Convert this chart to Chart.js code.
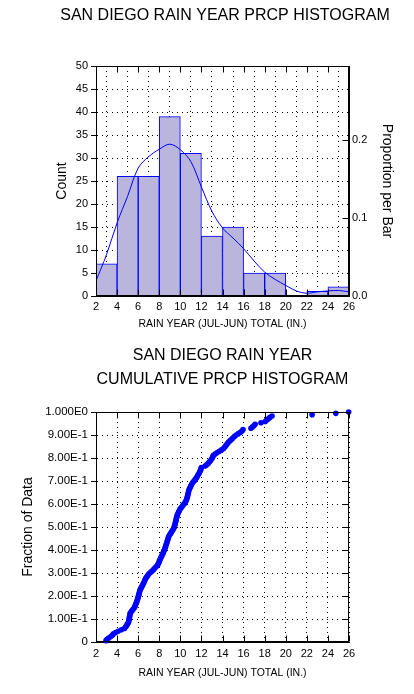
<!DOCTYPE html>
<html>
<head>
<meta charset="utf-8">
<script src="https://cdn.jsdelivr.net/npm/chart.js@4/dist/chart.umd.min.js"></script>
<style>
  body { margin: 0; background: #fff; }
  canvas { position: absolute; left: 0; }
</style>
</head>
<body>
<canvas id="histChart" width="414" height="335" style="top:0"></canvas>
<canvas id="cumChart" width="414" height="359" style="top:335px"></canvas>
<script>
// histogram bins (left edges, 2 in. wide) and counts
var binStarts = [2, 4, 6, 8, 10, 12, 14, 16, 18, 20, 22, 24];
var binCounts = [7, 26, 26, 39, 31, 13, 15, 5, 5, 0, 1, 2];

var curveX = [2, 3, 4, 5, 6, 7, 8, 9, 10, 11, 12, 13, 14, 15, 16, 17, 18, 19, 20, 21, 22, 23, 24, 25, 26];
var curveY = [3.3, 9, 15.9, 21.7, 27.8, 30.3, 31.9, 33, 31.8, 29.2, 23.7, 18.4, 14.8, 12.6, 10.3, 7.6, 5.2, 3.6, 2.3, 1.1, 0.6, 0.9, 1.1, 1.2, 0.9];

// rain year totals, sorted
var rainSorted = [
  2.95, 3.05, 3.2, 3.4, 3.55, 3.65, 3.85,
  4.1, 4.4, 4.7, 4.8, 4.9, 4.95, 5.05, 5.1, 5.12, 5.15, 5.17, 5.19, 5.21, 5.23, 5.3, 5.4, 5.5, 5.6, 5.68,
  5.72, 5.78, 5.83, 5.88, 5.92, 5.96, 5.99,
  6.03, 6.07, 6.1, 6.13, 6.16, 6.22, 6.28, 6.35, 6.42, 6.48, 6.55, 6.6, 6.65, 6.72, 6.8, 6.9, 6.98,
  7.1, 7.25, 7.4, 7.5, 7.62, 7.75, 7.85, 7.92, 7.98,
  8.02, 8.08, 8.14, 8.2, 8.26, 8.32, 8.38, 8.43, 8.48, 8.53, 8.58, 8.62, 8.66, 8.7, 8.74, 8.78, 8.82, 8.86, 8.9,
  8.98, 9.06, 9.14, 9.22, 9.3, 9.38, 9.42, 9.46, 9.5, 9.53, 9.56, 9.59, 9.62, 9.65, 9.68, 9.72, 9.78, 9.84, 9.9, 9.96,
  10.05, 10.15, 10.25, 10.35, 10.45, 10.52, 10.58, 10.62, 10.66, 10.69, 10.72, 10.75, 10.78, 10.8, 10.86, 10.92, 10.98,
  11.04, 11.1, 11.2, 11.3, 11.4, 11.5, 11.58, 11.65, 11.72, 11.8, 11.86, 11.92, 11.96, 11.99,
  12.35, 12.5, 12.65, 12.75, 12.85, 12.95, 13.02, 13.08, 13.15, 13.3, 13.5, 13.7, 13.9,
  14.1, 14.2, 14.3, 14.4, 14.5, 14.6, 14.75, 14.9, 15.0, 15.15, 15.3, 15.5, 15.7, 15.85, 15.95,
  16.7, 16.85, 17.0, 17.1, 17.65,
  18.05, 18.2, 18.35, 18.5, 18.7,
  22.5, 24.75, 25.97
];

var fracLabels = ['0', '1.00E-1', '2.00E-1', '3.00E-1', '4.00E-1', '5.00E-1', '6.00E-1', '7.00E-1', '8.00E-1', '9.00E-1', '1.000E0'];

var FONT = '"Liberation Sans", Arial, sans-serif';
Chart.defaults.font.family = FONT;
Chart.defaults.color = '#000';

var total = binCounts.reduce(function (a, b) { return a + b; }, 0);

// box around the plot + inward tick marks
var framePlugin = {
  id: 'frame',
  afterDraw: function (chart, args, opts) {
    var ctx = chart.ctx, a = chart.chartArea;
    var l = Math.round(a.left) + 0.5, r = Math.round(a.right) - 0.5;
    var t = Math.round(a.top) + 0.5, b = Math.round(a.bottom) - 0.5;
    ctx.save();
    ctx.strokeStyle = '#000';
    ctx.lineWidth = 1;
    ctx.strokeRect(l, t, r - l, b - t);
    ctx.beginPath();
    var xs = chart.scales.x;
    xs.ticks.forEach(function (tk) {
      var px = Math.round(xs.getPixelForValue(tk.value)) + 0.5;
      ctx.moveTo(px, t); ctx.lineTo(px, t + 6);
      ctx.moveTo(px, b); ctx.lineTo(px, b - 6);
    });
    var rs = chart.scales[opts.rightScale];
    rs.ticks.forEach(function (tk) {
      var py = Math.round(rs.getPixelForValue(tk.value)) + 0.5;
      ctx.moveTo(r, py); ctx.lineTo(r - 6, py);
    });
    ctx.stroke();
    ctx.restore();
  }
};

var histData = [];
for (let i = 0; i < binStarts.length; i++) {
  histData.push({ x: binStarts[i] + 1, y: binCounts[i] });
}
var curveData = [];
for (let i = 0; i < curveX.length; i++) {
  curveData.push({ x: curveX[i], y: curveY[i] });
}

var gridOpts = { color: '#000', drawTicks: true, tickLength: 5, tickColor: '#000', tickBorderDash: [] };
var borderOpts = { color: '#000', dash: [1, 4] };

new Chart(document.getElementById('histChart'), {
  type: 'bar',
  data: {
    datasets: [
      {
        type: 'line',
        data: curveData,
        borderColor: '#0000ff',
        borderWidth: 1,
        pointRadius: 0,
        tension: 0.35,
        fill: false
      },
      {
        type: 'bar',
        data: histData,
        backgroundColor: '#b9b5dd',
        borderColor: '#0000ff',
        borderWidth: 1,
        barPercentage: 1,
        categoryPercentage: 1
      }
    ]
  },
  plugins: [framePlugin],
  options: {
    responsive: false,
    animation: false,
    devicePixelRatio: 1,
    // left padding pushes the title centre right, y axis made narrower to match
    layout: { padding: { left: 36, right: 0, top: 0, bottom: 0 } },
    plugins: {
      legend: { display: false },
      tooltip: { enabled: false },
      frame: { rightScale: 'y2' },
      title: {
        display: true,
        text: 'SAN DIEGO RAIN YEAR PRCP HISTOGRAM',
        color: '#000',
        font: { size: 16, weight: 'normal' },
        padding: { top: 6, bottom: 40.8 }
      }
    },
    scales: {
      x: {
        type: 'linear', min: 2, max: 26, offset: false,
        ticks: { stepSize: 2, autoSkip: false, maxRotation: 0, padding: 4, font: { size: 11 } },
        grid: { color: '#000', drawTicks: false },
        border: borderOpts,
        title: { display: true, text: 'RAIN YEAR (JUL-JUN) TOTAL (IN.)', font: { size: 10.5 }, padding: { top: 0, bottom: 4.7 } },
        afterFit: function (s) { s.height = 39; }
      },
      y: {
        min: 0, max: 50,
        ticks: { stepSize: 5, padding: 3, font: { size: 11 } },
        grid: gridOpts,
        border: borderOpts,
        title: { display: true, text: 'Count', font: { size: 14 }, padding: { top: 17.6, bottom: 0 } },
        afterFit: function (s) { s.width = 60; }
      },
      y2: {
        position: 'right',
        min: 0, max: 50 / total,
        ticks: { stepSize: 0.1, includeBounds: false, padding: 3, font: { size: 11 },
          callback: function (v) { return v.toFixed(1); } },
        grid: { drawOnChartArea: false, drawTicks: false },
        border: { color: '#000' },
        title: { display: true, text: 'Proportion per Bar', font: { size: 14 }, padding: { top: 18.5, bottom: 0 } },
        afterFit: function (s) { s.width = 65; }
      }
    }
  }
});

// cumulative fraction: rank / n
var cumData = [];
for (let i = 0; i < rainSorted.length; i++) {
  cumData.push({ x: rainSorted[i], y: (i + 1) / rainSorted.length });
}

new Chart(document.getElementById('cumChart'), {
  type: 'scatter',
  data: {
    datasets: [{
      data: cumData,
      backgroundColor: '#0000ff',
      borderWidth: 0,
      pointRadius: 2.8,
      clip: false
    }]
  },
  plugins: [framePlugin],
  options: {
    responsive: false,
    animation: false,
    devicePixelRatio: 1,
    layout: { padding: { left: 0, right: 65, top: 0, bottom: 0 } },
    plugins: {
      legend: { display: false },
      tooltip: { enabled: false },
      frame: { rightScale: 'y' },
      title: {
        display: true,
        fullSize: false,
        text: ['SAN DIEGO RAIN YEAR', 'CUMULATIVE PRCP HISTOGRAM'],
        color: '#000',
        font: { size: 16, weight: 'normal', lineHeight: 1.5 },
        padding: { top: 9, bottom: 20 }
      }
    },
    scales: {
      x: {
        type: 'linear', min: 2, max: 26,
        ticks: { stepSize: 2, autoSkip: false, maxRotation: 0, padding: 5, font: { size: 11 } },
        grid: { color: '#000', drawTicks: false },
        border: borderOpts,
        title: { display: true, text: 'RAIN YEAR (JUL-JUN) TOTAL (IN.)', font: { size: 10.5 }, padding: { top: 0, bottom: 14.7 } },
        afterFit: function (s) { s.height = 52; }
      },
      y: {
        min: 0, max: 1,
        ticks: { stepSize: 0.1, padding: 3, font: { size: 11.5 },
          callback: function (v, i) { return fracLabels[i]; } },
        grid: gridOpts,
        border: borderOpts,
        title: { display: true, text: 'Fraction of Data', font: { size: 14 }, padding: { top: 19.6, bottom: 0 } },
        afterFit: function (s) { s.width = 96; }
      }
    }
  }
});
</script>
</body>
</html>
